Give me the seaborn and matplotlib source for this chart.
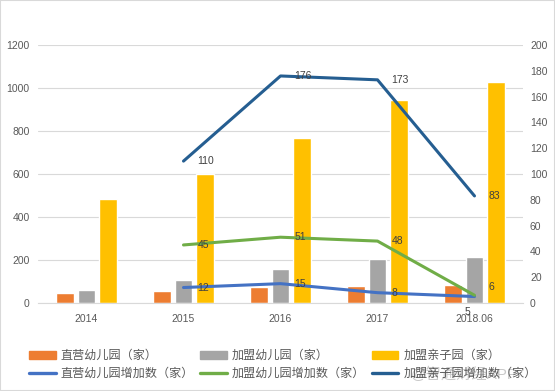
import pandas as pd
import seaborn as sns
import matplotlib
matplotlib.use("Agg")
import matplotlib.pyplot as plt
from matplotlib.patches import Patch, Rectangle
from matplotlib.lines import Line2D

# chart data
years = ["2014", "2015", "2016", "2017", "2018.06"]
bar_series = ["直营幼儿园（家）", "加盟幼儿园（家）", "加盟亲子园（家）"]
direct_kg = [47, 56, 74, 79, 84]
franchise_kg = [60, 107, 158, 205, 214]
franchise_pc = [484, 600, 767, 944, 1028]

line_years = ["2015", "2016", "2017", "2018.06"]
line_series = ["直营幼儿园增加数（家）", "加盟幼儿园增加数（家）", "加盟亲子园增加数（家）"]
direct_kg_add = [12, 15, 8, 5]
franchise_kg_add = [45, 51, 48, 6]
franchise_pc_add = [110, 176, 173, 83]

bar_colors = ["#ED7D31", "#A5A5A5", "#FFC000"]
line_colors = ["#4472C4", "#70AD47", "#255E91"]

# long-form tables for seaborn
bars = pd.DataFrame({
    "year": years * 3,
    "series": sum([[s] * len(years) for s in bar_series], []),
    "value": direct_kg + franchise_kg + franchise_pc,
})
lines = pd.DataFrame({
    "pos": [years.index(y) for y in line_years] * 3,
    "series": sum([[s] * len(line_years) for s in line_series], []),
    "value": direct_kg_add + franchise_kg_add + franchise_pc_add,
})

sns.set_style("white")
plt.rcParams["font.family"] = ["Liberation Sans", "Noto Sans CJK SC", "DejaVu Sans"]

fig = plt.figure(figsize=(5.55, 3.91), dpi=100)
ax = fig.add_axes([38 / 555, 1 - 303 / 391, 485 / 555, 258 / 391])

sns.barplot(data=bars, x="year", y="value", hue="series", order=years,
            hue_order=bar_series, palette=bar_colors, width=0.67, gap=0.2,
            saturation=1, ax=ax, legend=False)

ax2 = ax.twinx()
sns.lineplot(data=lines, x="pos", y="value", hue="series", hue_order=line_series,
             palette=line_colors, linewidth=2.2, ax=ax2, legend=False)

ax.set_xlim(-0.5, 4.5)
ax.set_ylim(0, 1200)
ax.set_yticks(range(0, 1201, 200))
ax2.set_ylim(0, 200)
ax2.set_yticks(range(0, 201, 20))
ax.set_xlabel("")
ax.set_ylabel("")
ax2.set_xlabel("")
ax2.set_ylabel("")

ax.yaxis.grid(True, color="#D9D9D9", linewidth=0.8)
ax.set_axisbelow(True)
for a in (ax, ax2):
    for s in a.spines.values():
        s.set_visible(False)
ax.spines["bottom"].set_visible(True)
ax.spines["bottom"].set_color("#D9D9D9")

ax.tick_params(axis="y", length=0, pad=6, labelsize=7.5, labelcolor="#595959")
ax.tick_params(axis="x", length=0, pad=8, labelsize=7.5, labelcolor="#595959")
ax2.tick_params(axis="y", length=0, pad=5, labelsize=7.5, labelcolor="#595959")

# data labels
offsets = {
    line_series[0]: [(10, 0), (10, 0), (10, 0), (-5, -11)],
    line_series[1]: [(10, 0), (10, 0), (10, 0), (10, 6)],
    line_series[2]: [(10, 0), (10, 0), (10, 0), (10, 0)],
}
for s in line_series:
    sub = lines[lines["series"] == s]
    for (p, v), off in zip(zip(sub["pos"], sub["value"]), offsets[s]):
        ha = "left" if off[0] > 0 else "center"
        ax2.annotate(str(v), (p, v), xytext=off, textcoords="offset points",
                     ha=ha, va="center", fontsize=7.5, color="#404040")

# legend
handles = [
    Patch(color=bar_colors[0]), Line2D([], [], color=line_colors[0], lw=2.4),
    Patch(color=bar_colors[1]), Line2D([], [], color=line_colors[1], lw=2.4),
    Patch(color=bar_colors[2]), Line2D([], [], color=line_colors[2], lw=2.4),
]
labels = [bar_series[0], line_series[0], bar_series[1], line_series[1],
          bar_series[2], line_series[2]]
fig.legend(handles, labels, ncol=3, loc="upper left",
           bbox_to_anchor=(29 / 555, 1 - 350 / 391), frameon=False,
           fontsize=8.7, handlelength=2.2, handletextpad=0.4,
           columnspacing=0.55, labelspacing=0.48, borderpad=0, borderaxespad=0,
           labelcolor="#595959")

fig.text(411 / 555, 1 - 374 / 391, "@智通财经APP", fontsize=11, color="#BFBFBF",
         alpha=0.85, va="center", ha="left")

fig.patches.append(Rectangle((0, 0), 1, 1, transform=fig.transFigure, fill=False,
                             edgecolor="#D9D9D9", linewidth=1.5))

fig.savefig("out.png", dpi=100)
